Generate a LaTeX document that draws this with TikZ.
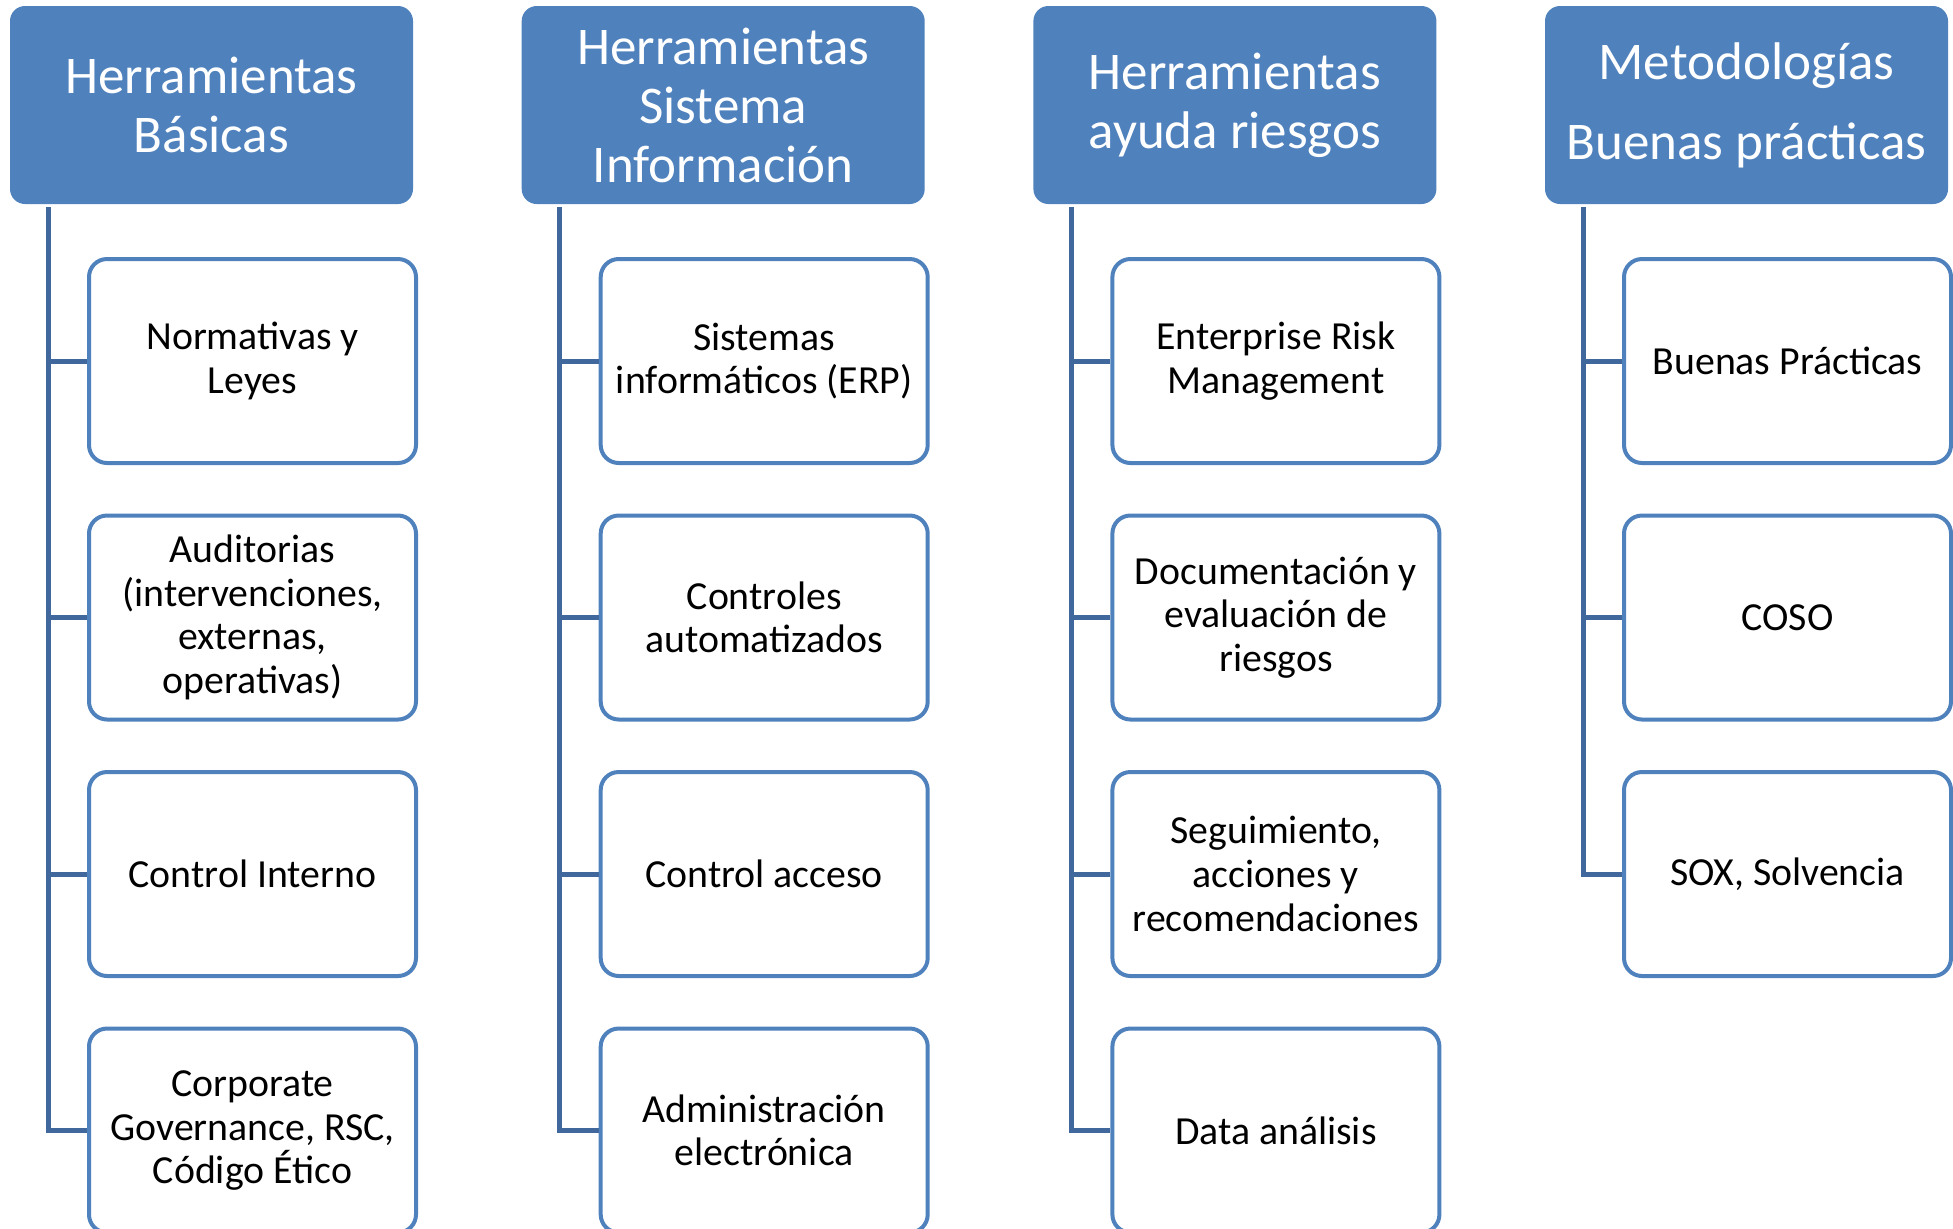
\documentclass[tikz,border=0pt]{standalone}
\usepackage{fontspec}
\setmainfont{Carlito}
\definecolor{hdr}{RGB}{79,129,189}
\definecolor{bxline}{RGB}{79,129,189}
\definecolor{conncol}{RGB}{64,104,156}
\tikzset{
  header/.style={fill=hdr, draw=none, rounded corners=7.5pt, minimum width=201.5pt, minimum height=99pt,
    text=white, align=center, font=\fontsize{26.5}{29.5}\selectfont, inner sep=0pt},
  childbox/.style={draw=bxline, line width=2pt, fill=white, rounded corners=9pt, minimum width=163.5pt,
    minimum height=102pt, align=center, font=\fontsize{19.9}{21.8}\selectfont, inner sep=0pt},
  conn/.style={draw=conncol, line width=2.5pt}
}
\begin{document}
\begin{tikzpicture}[x=0.5pt,y=-0.5pt]
\useasboundingbox (0,0) rectangle (1953,1228);
% headers
\node[header] (h1) at (211.5,105) {Herramientas\\Básicas};
\node[header] (h2) at (723.2,105) {Herramientas\\Sistema\\Información};
\node[header] (h3) at (1234.9,105) {Herramientas\\ayuda riesgos};
\node[header, font=\fontsize{26.5}{40}\selectfont] (h4) at (1746.5,105) {Metodologías\\Buenas prácticas};
% column 1
\node[childbox] (b11) at (252.5,361) {Normativas y\\Leyes};
\node[childbox] (b12) at (252.5,617.5) {Auditorias\\(intervenciones,\\externas,\\operativas)};
\node[childbox] (b13) at (252.5,874) {Control Interno};
\node[childbox] (b14) at (252.5,1130.5) {Corporate\\Governance, RSC,\\Código Ético};
% column 2
\node[childbox] (b21) at (764.2,361) {Sistemas\\informáticos (ERP)};
\node[childbox] (b22) at (764.2,617.5) {Controles\\automatizados};
\node[childbox] (b23) at (764.2,874) {Control acceso};
\node[childbox] (b24) at (764.2,1130.5) {Administración\\electrónica};
% column 3
\node[childbox] (b31) at (1275.9,361) {Enterprise Risk\\Management};
\node[childbox] (b32) at (1275.9,617.5) {Documentación y\\evaluación de\\riesgos};
\node[childbox] (b33) at (1275.9,874) {Seguimiento,\\acciones y\\recomendaciones};
\node[childbox] (b34) at (1275.9,1130.5) {Data análisis};
% column 4
\node[childbox] (b41) at (1787.5,361) {Buenas Prácticas};
\node[childbox] (b42) at (1787.5,617.5) {COSO};
\node[childbox] (b43) at (1787.5,874) {SOX, Solvencia};
% connector tops
\coordinate (v1) at (48,207);
\coordinate (v2) at (559.7,207);
\coordinate (v3) at (1071.4,207);
\coordinate (v4) at (1583,207);
% connectors
\draw[conn] (v1) |- (b14.west);
\draw[conn] (b11.west) -- (b11.west -| v1);
\draw[conn] (b12.west) -- (b12.west -| v1);
\draw[conn] (b13.west) -- (b13.west -| v1);
\draw[conn] (v2) |- (b24.west);
\draw[conn] (b21.west) -- (b21.west -| v2);
\draw[conn] (b22.west) -- (b22.west -| v2);
\draw[conn] (b23.west) -- (b23.west -| v2);
\draw[conn] (v3) |- (b34.west);
\draw[conn] (b31.west) -- (b31.west -| v3);
\draw[conn] (b32.west) -- (b32.west -| v3);
\draw[conn] (b33.west) -- (b33.west -| v3);
\draw[conn] (v4) |- (b43.west);
\draw[conn] (b41.west) -- (b41.west -| v4);
\draw[conn] (b42.west) -- (b42.west -| v4);
\end{tikzpicture}
\end{document}
